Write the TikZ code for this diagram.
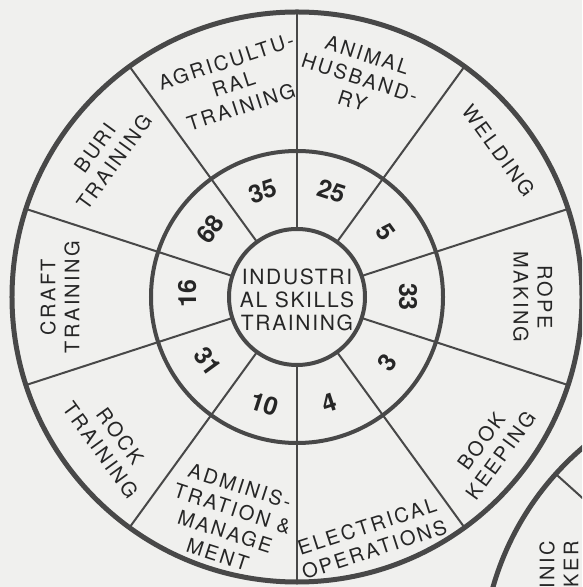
\documentclass[tikz,border=0pt]{standalone}
\usepackage{fontspec}
\usepackage{tikz}
\newfontfamily\lblfont[LetterSpace=12]{TeX Gyre Heros}
\newfontfamily\hubfont[LetterSpace=8]{TeX Gyre Heros}
\newfontfamily\numfont{TeX Gyre Heros}
\definecolor{paper}{RGB}{240,240,238}
\definecolor{linegray}{RGB}{72,72,72}
\definecolor{inkdark}{RGB}{38,38,38}
\tikzset{
  rim/.style={draw=linegray, line width=2.5pt},
  ring/.style={draw=linegray, line width=2pt},
  spoke/.style={draw=linegray, line width=1pt},
  lbl/.style={font=\lblfont\fontsize{10}{12}\selectfont, text=inkdark,
    align=center, inner sep=0pt},
  hubtext/.style={font=\hubfont\fontsize{10.5}{11.5}\selectfont, text=inkdark,
    align=center, inner sep=0pt},
  num/.style={font=\numfont\bfseries\fontsize{12.5}{14}\selectfont, text=inkdark,
    inner sep=0pt}
}

\begin{document}
\begin{tikzpicture}[x=0.5pt, y=0.5pt]
  \useasboundingbox (-297,-290) rectangle (285,297);
  \fill[paper] (-297,-290) rectangle (285,297);
  \clip (-297,-290) rectangle (285,297);
  % rings
  \draw[rim] (0,0) circle (285);
  \draw[ring] (0,0) circle (146);
  \draw[ring] (0,0) circle (68);
  % spokes
  \draw[spoke] (90:68) -- (90:285);
  \draw[spoke] (54:68) -- (54:285);
  \draw[spoke] (18:68) -- (18:285);
  \draw[spoke] (-18:68) -- (-18:285);
  \draw[spoke] (-54:68) -- (-54:285);
  \draw[spoke] (-90:68) -- (-90:285);
  \draw[spoke] (-126:68) -- (-126:285);
  \draw[spoke] (-162:68) -- (-162:285);
  \draw[spoke] (162:68) -- (162:285);
  \draw[spoke] (126:68) -- (126:285);
  % hub
  \node[hubtext] (hub) at (0,-3) {INDUSTRI\\AL SKILLS\\TRAINING};
  % counts in the middle ring
  \node[num, rotate=18] (n35) at (108:111) {35};
  \node[num, rotate=-18] (n25) at (72:111) {25};
  \node[num, rotate=-54] (n5) at (36:110) {5};
  \node[num, rotate=-90] (n33) at (0:111) {33};
  \node[num, rotate=54] (n3) at (-36:112) {3};
  \node[num, rotate=18] (n4) at (-73:111) {4};
  \node[num, rotate=-18] (n10) at (-107:112) {10};
  \node[num, rotate=-54] (n31) at (-144:110) {31};
  \node[num, rotate=90] (n16) at (178:110) {16};
  \node[num, rotate=54] (n68) at (142:110) {68};
  % outer labels
  \node[lbl, rotate=18] (agri) at (106.6:222) {AGRICULTU-\\RAL\\TRAINING};
  \node[lbl, rotate=-18] (animal) at (74:228) {ANIMAL\\HUSBAND-\\RY};
  \node[lbl, rotate=-54] (weld) at (36:249) {WELDING};
  \node[lbl, rotate=-90] (rope) at (0:236) {ROPE\\MAKING};
  \node[lbl, rotate=54] (book) at (-38:246) {BOOK\\KEEPING};
  \node[lbl, rotate=18] (elec) at (-73:252) {ELECTRICAL\\OPERATIONS};
  \node[lbl, rotate=-18] (admin) at (-107:233) {ADMINIS-\\TRATION \&\\MANAGE\\MENT};
  \node[lbl, rotate=-54] (rock) at (-142:237) {ROCK\\TRAINING};
  \node[lbl, rotate=90] (craft) at (180:237) {CRAFT\\TRAINING};
  \node[lbl, rotate=54] (buri) at (143.6:239) {BURI\\TRAINING};
  % next chart, cut off by the page edge
  \draw[rim] (472,-369) circle (287);
  \draw[spoke, shift={(472,-369)}] (138:287) -- (138:220);
  \node[lbl, rotate=90, align=right, anchor=east] (nextlbl) at (262,-244) {INIC\\KER};
\end{tikzpicture}
\end{document}
